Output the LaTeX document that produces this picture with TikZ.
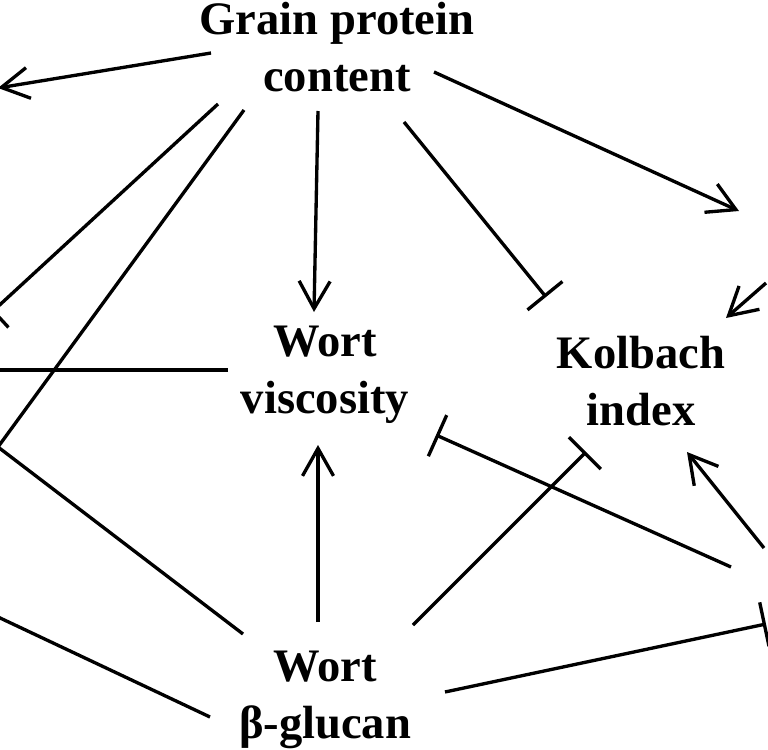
\documentclass[tikz,border=0pt]{standalone}
\usepackage{fontspec}
\setmainfont{Liberation Serif}
\usetikzlibrary{arrows.meta,calc}
\tikzset{
  factor/.style = {align = center, inner sep = 0pt,
                   font = \fontsize{26.5}{32.5}\selectfont\bfseries},
  link/.style = {line width = 1.9pt},
  promote/.style = {link, -{Straight Barb[length = 5.5mm, width = 6.2mm]}},
  inhibit/.style = {link, -{Bar[width = 9mm]}}
}
\begin{document}
\begin{tikzpicture}[x = 0.02cm, y = -0.02cm]
      \clip (0,0) rectangle (768,750);
      \node [factor] (gpc)  at (337,47)  {Grain protein\\content};
      \node [factor] (visc) at (325,375) {Wort\\viscosity};
      \node [factor] (kolb) at (641,381) {Kolbach\\index};
      \node [factor] (glu)  at (325,700) {Wort\\β-glucan};
      % ends of connectors whose nodes lie outside the picture
      \coordinate (wNorth) at (-2,88);
      \coordinate (wBar)   at (-8,312);
      \coordinate (wMid)   at (-4,370);
      \coordinate (wJoin)  at (-2,447);
      \coordinate (wSouth) at (-2,617);
      \coordinate (eTop)   at (739,211);
      \coordinate (eUp)    at (766,283);
      \coordinate (eLow)   at (764,548);
      \coordinate (eMid)   at (731,567);
      \coordinate (eBar)   at (766,624);
      % grain protein content
      \draw [promote] ($(gpc)+(-126,6)$) -- (wNorth);
      \draw [inhibit] ($(gpc)+(-119,57)$) -- (wBar);
      \draw [link] ($(gpc)+(-93,63)$) -- (wJoin);
      \draw [promote] ($(gpc)+(-19,64)$) -- ($(visc)+(-11,-63)$);
      \draw [inhibit] ($(gpc)+(67,75)$) -- ($(kolb)+(-95,-84)$);
      \draw [promote] ($(gpc)+(97,25)$) -- (eTop);
      % wort viscosity and Kolbach index
      \draw [link] ($(visc)+(-97,-5)$) -- (wMid);
      \draw [promote] (eUp) -- ($(kolb)+(85,-63)$);
      \draw [inhibit] (eMid) -- ($(visc)+(111,60)$);
      \draw [promote] (eLow) -- ($(kolb)+(46,71)$);
      % wort beta-glucan
      \draw [promote] ($(glu)+(-7,-78)$) -- ($(visc)+(-7,70)$);
      \draw [inhibit] ($(glu)+(88,-75)$) -- ($(kolb)+(-55,71)$);
      \draw [inhibit] ($(glu)+(120,-8)$) -- (eBar);
      \draw [link] ($(glu)+(-82,-66)$) -- (wJoin);
      \draw [link] (wSouth) -- ($(glu)+(-115,17)$);
    \end{tikzpicture}
\end{document}
